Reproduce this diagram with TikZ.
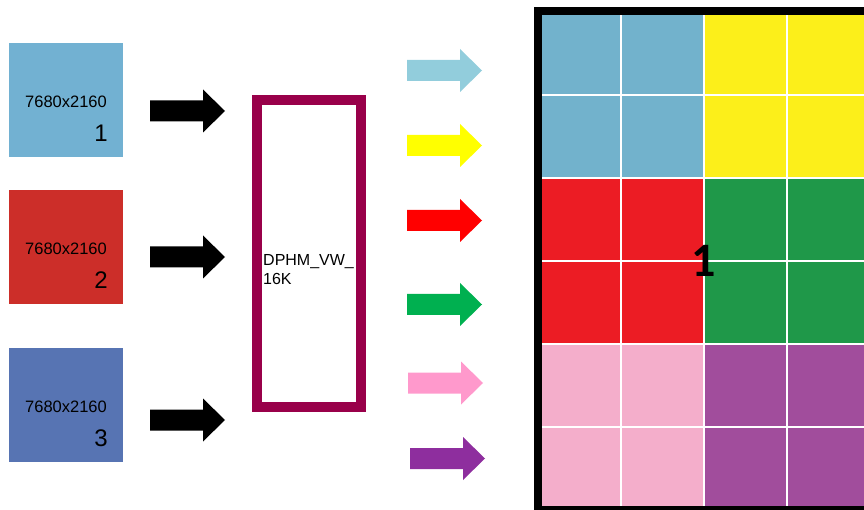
\documentclass[tikz,border=0pt]{standalone}
\usepackage{fontspec}
\setmainfont{Liberation Sans}
\newfontfamily\bigb{Carlito Bold}
\definecolor{srcA}{HTML}{72B1D2}
\definecolor{srcB}{HTML}{CC2E29}
\definecolor{srcC}{HTML}{5774B3}
\definecolor{muxc}{HTML}{99004A}
\definecolor{arA}{HTML}{92CDDC}
\definecolor{arB}{HTML}{FFFF00}
\definecolor{arC}{HTML}{FF0000}
\definecolor{arD}{HTML}{00B050}
\definecolor{arE}{HTML}{FF99CC}
\definecolor{arF}{HTML}{8E2E9E}
\definecolor{cA}{HTML}{72B2CC}
\definecolor{cB}{HTML}{FCEF1A}
\definecolor{cC}{HTML}{EC1C24}
\definecolor{cD}{HTML}{1F9849}
\definecolor{cE}{HTML}{F4AECB}
\definecolor{cF}{HTML}{A14D9C}
\newcommand{\blkarrow}[3]{%
  \fill[#3] (#1,{#2-10.5}) -- ({#1+53},{#2-10.5}) -- ({#1+53},{#2-21.5}) -- ({#1+75},#2)
    -- ({#1+53},{#2+21.5}) -- ({#1+53},{#2+10.5}) -- (#1,{#2+10.5}) -- cycle;}
\tikzset{
  srcbox/.style={minimum width=114pt, minimum height=114pt, inner sep=0pt, outer sep=0pt},
  restxt/.style={inner sep=0pt, font=\fontsize{16.5}{16.5}\selectfont},
  numtxt/.style={inner sep=0pt, anchor=east, font=\fontsize{24}{24}\selectfont},
  muxbox/.style={draw=muxc, line width=10pt, minimum width=104pt, minimum height=307pt, inner sep=0pt},
}
\begin{document}
\begin{tikzpicture}[x=1pt, y=-1pt]
\useasboundingbox (0,0) rectangle (864,510);
\clip (0,0) rectangle (864,510);
% source boxes
\node[srcbox, fill=srcA] (s1) at (66,100) {};
\node[srcbox, fill=srcB] (s2) at (66,247) {};
\node[srcbox, fill=srcC] (s3) at (66,405) {};
\node[restxt] (r1) at (66,102) {7680x2160};
\node[restxt] (r2) at (66,249) {7680x2160};
\node[restxt] (r3) at (66,407) {7680x2160};
\node[numtxt] (n1) at (108,133.5) {1};
\node[numtxt] (n2) at (108,280.5) {2};
\node[numtxt] (n3) at (108,438.5) {3};
% black arrows
\blkarrow{150}{111}{black}
\blkarrow{150}{257}{black}
\blkarrow{150}{420}{black}
% mux
\node[muxbox] (mux) at (309,253.5) {};
\node[inner sep=0pt, anchor=north west, align=left, font=\fontsize{16}{19}\selectfont] (mt) at (263,254) {DPHM\_VW\_\\16K};
% coloured arrows
\blkarrow{407}{70.5}{arA}
\blkarrow{407}{145.5}{arB}
\blkarrow{407}{220.5}{arC}
\blkarrow{407}{304.5}{arD}
\blkarrow{408}{383}{arE}
\blkarrow{410}{458.5}{arF}
% grid cells
\fill[cA] (538,12) rectangle (704,178);
\fill[cB] (704,12) rectangle (870,178);
\fill[cC] (538,178) rectangle (704,344);
\fill[cD] (704,178) rectangle (870,344);
\fill[cE] (538,344) rectangle (704,512);
\fill[cF] (704,344) rectangle (870,512);
\foreach \gx in {621,704,787} \draw[white, line width=2pt] (\gx,12) -- (\gx,512);
\foreach \gy in {95,178,261,344,427} \draw[white, line width=2pt] (538,\gy) -- (870,\gy);
\draw[black, line width=8pt] (538,11.5) rectangle (875,510);
\node[inner sep=0pt, font=\bigb\fontsize{48}{48}\selectfont] (big) at (704,260.5) {1};
\end{tikzpicture}
\end{document}
